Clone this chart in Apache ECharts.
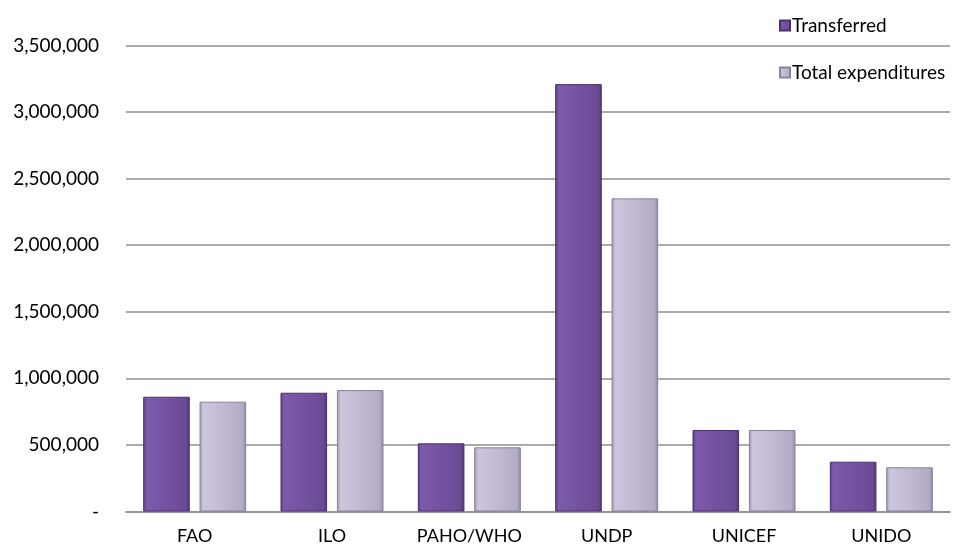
<!DOCTYPE html>
<html>
<head>
<meta charset="utf-8">
<script src="https://cdn.jsdelivr.net/npm/echarts@6/dist/echarts.min.js"></script>
<style>html,body{margin:0;padding:0;background:#fff}#c{width:959px;height:552px}</style>
</head>
<body>
<div id="c"></div>
<script>
const categories = ["FAO", "ILO", "PAHO/WHO", "UNDP", "UNICEF", "UNIDO"];
const transferred = [862000, 892000, 512000, 3210000, 612000, 374000];
const totalExpenditures = [825000, 912000, 482000, 2352000, 612000, 332000];
const seriesNames = ["Transferred", "Total expenditures"];

const FONT = "Lato, 'Noto Sans', sans-serif";
const chart = echarts.init(document.getElementById('c'));

function grad(stops) {
  return new echarts.graphic.LinearGradient(0, 0, 1, 0, stops.map((c, i) => ({offset: c[0], color: c[1]})));
}
const darkFill = grad([[0, '#5c3f84'], [0.08, '#7d5bab'], [0.5, '#7452a1'], [0.92, '#6a4a94'], [1, '#4f3573']]);
const lightFill = grad([[0, '#9d94ad'], [0.08, '#cdc5dd'], [0.5, '#c2b9d3'], [0.92, '#b3aac5'], [1, '#8f879e']]);

chart.setOption({
  animation: false,
  textStyle: {fontFamily: FONT},
  grid: {left: 126, right: 9, top: 45.5, bottom: 40.5, containLabel: false},
  legend: {
    orient: 'vertical', left: 774, top: 11, itemGap: 28,
    itemWidth: 10, itemHeight: 10, icon: 'rect',
    textStyle: {fontSize: 19, color: '#000', fontFamily: FONT, padding: [0, 0, 0, -3]},
    data: seriesNames
  },
  xAxis: {
    type: 'category', data: categories,
    axisLine: {lineStyle: {color: '#8f8f8f', width: 1.5}},
    axisTick: {show: false},
    axisLabel: {color: '#000', fontSize: 18, margin: 16}
  },
  yAxis: {
    type: 'value', min: 0, max: 3500000, interval: 500000,
    axisLine: {show: false}, axisTick: {show: false},
    splitLine: {lineStyle: {color: '#8f8f8f', width: 1.5}},
    axisLabel: {
      color: '#000', fontSize: 19, margin: 27,
      formatter: v => v === 0 ? '-' : v.toLocaleString('en-US')
    }
  },
  series: [
    {name: seriesNames[0], type: 'bar', data: transferred, barGap: '21%', barCategoryGap: '25%',
     itemStyle: {color: darkFill, borderColor: '#4a3270', borderWidth: 1}},
    {name: seriesNames[1], type: 'bar', data: totalExpenditures,
     itemStyle: {color: lightFill, borderColor: '#8a8298', borderWidth: 1}}
  ]
});
</script>
</body>
</html>
